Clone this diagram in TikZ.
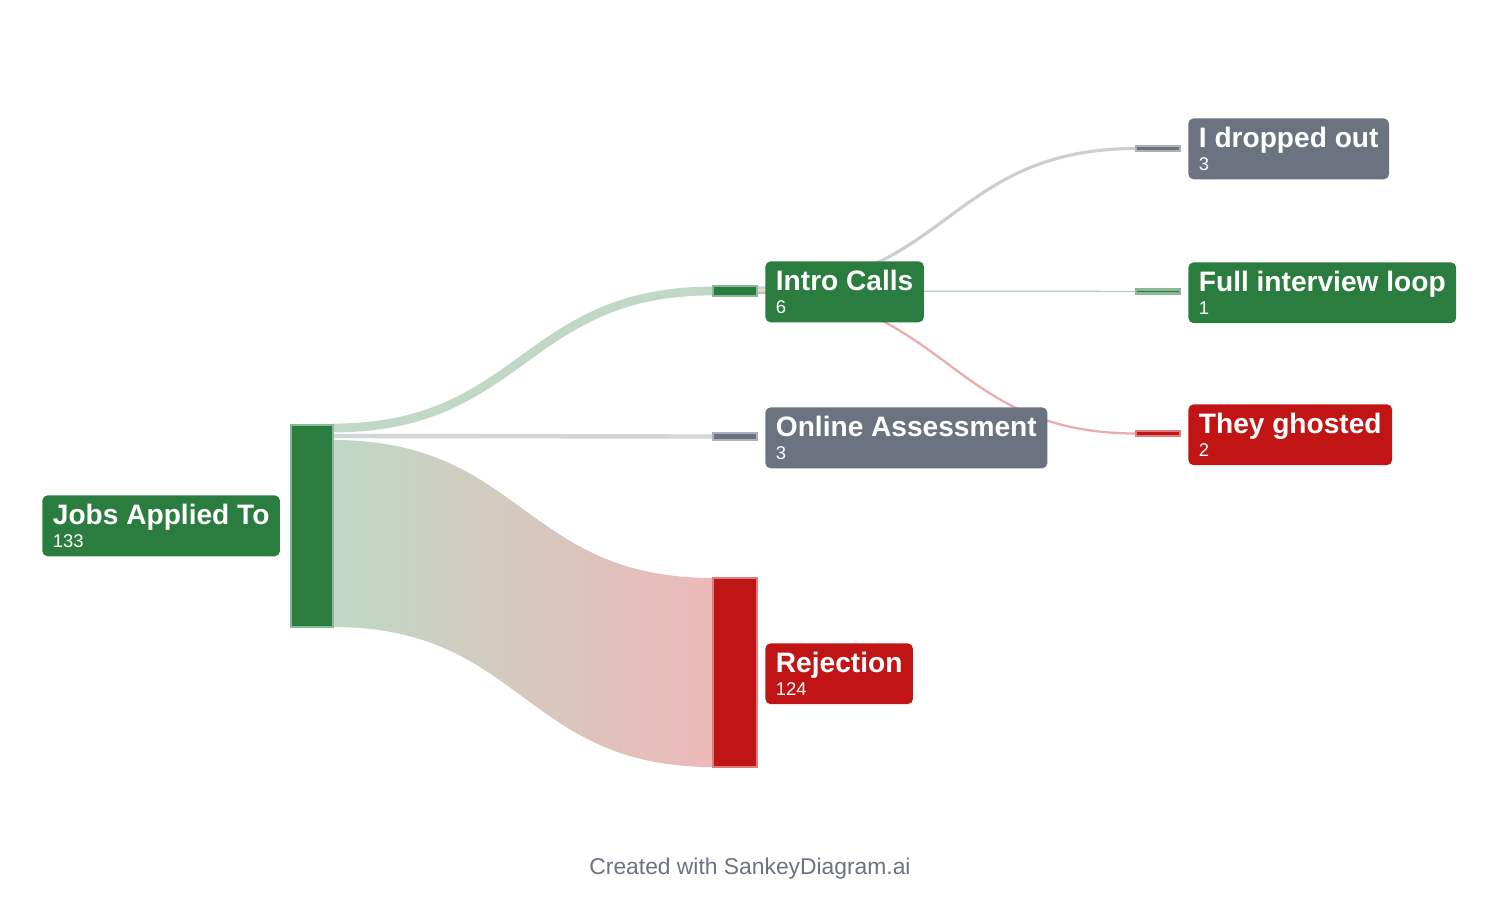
\documentclass[tikz,border=0pt]{standalone}
\usepackage{fontspec}
\setmainfont{Liberation Sans}
\definecolor{okgreen}{HTML}{2B7D3F}
\definecolor{midgray}{HTML}{6B7280}
\definecolor{badred}{HTML}{C11515}
\tikzset{
  bar/.style={draw=#1!55!white, fill=#1, line width=1.5pt, inner sep=0pt, minimum width=0.84cm},
  lbl/.style={fill=#1, rounded corners=3pt, anchor=north west, text=white, align=left,
    inner xsep=6pt, inner ysep=5pt},
  flow/.style={line width=#1, line cap=butt}
}
\newcommand\tagbox[5]{% name, position, colour, title, value
  \node[lbl=#3] (#1) at #2 {\fontsize{16}{17}\selectfont\bfseries #4\\[1pt]\fontsize{10.5}{11}\selectfont #5};}
\begin{document}
\begin{tikzpicture}[x=0.02cm, y=-0.02cm]
  \useasboundingbox (0,0) rectangle (1500,912);
  % flows
  \shade[left color=okgreen!30, right color=badred!30]
    (333,440) .. controls (523,440) and (523,578) .. (713,578) -- (713,767)
    .. controls (523,767) and (523,627) .. (333,627) -- cycle;
  \draw[flow=5pt, okgreen!30] (333,428) .. controls (523,428) and (523,291) .. (713,291);
  \draw[flow=2.5pt, midgray!30] (333,436) -- (713,436.5);
  \draw[flow=1.8pt, midgray!35] (757,288) .. controls (947,288) and (947,148.5) .. (1136,148.5);
  \draw[flow=0.8pt, okgreen!35] (757,291) -- (1136,291.5);
  \draw[flow=1.3pt, badred!35] (757,293) .. controls (947,293) and (947,433.5) .. (1136,433.5);
  % bars
  \node[bar=okgreen, minimum height=4.04cm] (jobs) at (312,526) {};
  \node[bar=okgreen, minimum height=0.2cm, minimum width=0.88cm] (intro) at (735,291) {};
  \node[bar=midgray, minimum height=0.14cm, minimum width=0.88cm] (oa) at (735,436.5) {};
  \node[bar=badred, minimum height=3.78cm, minimum width=0.88cm] (rej) at (735,672.5) {};
  \node[bar=midgray, minimum height=0.1cm, minimum width=0.88cm] (drop) at (1158,148.5) {};
  \node[bar=okgreen, minimum height=0.08cm, minimum width=0.88cm] (loop) at (1158,291.5) {};
  \node[bar=badred, minimum height=0.1cm, minimum width=0.88cm] (ghost) at (1158,433.5) {};
  % labels
  \tagbox{jobsL}{(42,495)}{okgreen}{Jobs Applied To}{133}
  \tagbox{introL}{(765,261)}{okgreen}{Intro Calls}{6}
  \tagbox{oaL}{(765,407)}{midgray}{Online Assessment}{3}
  \tagbox{rejL}{(765,643)}{badred}{Rejection}{124}
  \tagbox{dropL}{(1188,118)}{midgray}{I dropped out}{3}
  \tagbox{loopL}{(1188,262)}{okgreen}{Full interview loop}{1}
  \tagbox{ghostL}{(1188,404)}{badred}{They ghosted}{2}
  \node[text=midgray, font=\fontsize{13}{15}\selectfont] (credit) at (750,869) {Created with SankeyDiagram.ai};
\end{tikzpicture}
\end{document}
